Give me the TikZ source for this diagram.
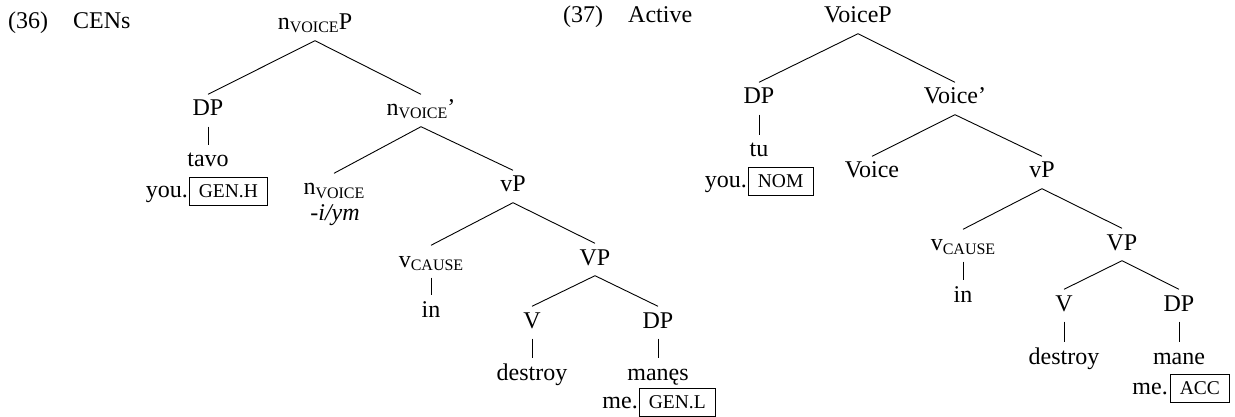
\documentclass[tikz,border=0pt]{standalone}
\usepackage{fontspec}
\setmainfont{Liberation Serif}
\newcommand\catfont{\fontsize{24}{28}\selectfont}
\newcommand\glossfont{\fontsize{19.5}{21}\selectfont}
\newcommand\feat[1]{\raisebox{-3pt}{\fontsize{16}{16}\selectfont #1}}

\begin{document}
\begin{tikzpicture}[x=1pt,y=-1pt,
  cat/.style={anchor=base, font=\catfont, text height=16pt, text depth=5pt,
              inner ysep=5.5pt, inner xsep=0pt},
  gl/.style={anchor=base east, font=\catfont, inner sep=0pt},
  tag/.style={anchor=base west, draw, line width=0.8pt, font=\glossfont,
              text height=12.5pt, text depth=1pt, inner ysep=7.5pt, inner xsep=9.5pt},
  hdr/.style={anchor=base west, font=\catfont, inner sep=0pt},
  edge/.style={line width=0.9pt}]
\useasboundingbox (0,0) rectangle (1235,417);

% ---------- (36) CENs ----------
\node[hdr] (n36) at (8,29) {(36)};
\node[hdr] (t36) at (73,29) {CENs};

\node[cat] (nP)    at (315,30)  {n\feat{VOICE}P};
\node[cat] (dpA)   at (208,116) {DP};
\node[cat] (nbar)  at (421,116) {n\feat{VOICE}'};
\node[cat] (tavo)  at (208,167) {tavo};
\node[gl]  (youA)  at (188,197) {you.};
\node[tag] (genH)  at (189,197) {GEN.H};
\node[cat] (nV)    at (334,195) {n\feat{VOICE}};
\node[cat] (suf)   at (335,220) {\itshape -i/ym};
\node[cat] (vPA)   at (513,192) {vP};
\node[cat] (vcA)   at (431,267) {v\feat{CAUSE}};
\node[cat] (VPA)   at (595,265) {VP};
\node[cat] (inA)   at (431,317) {in};
\node[cat] (VA)    at (532,328) {V};
\node[cat] (dpB)   at (658,328) {DP};
\node[cat] (desA)  at (532,380) {destroy};
\node[cat] (manes) at (658,380) {manęs};
\node[gl]  (meA)   at (638,408) {me.};
\node[tag] (genL)  at (639,408) {GEN.L};

\draw[edge] (nP.south) -- (dpA.north);
\draw[edge] (nP.south) -- (nbar.north);
\draw[edge] (dpA.south) -- (tavo.north);
\draw[edge] (nbar.south) -- (nV.north);
\draw[edge] (nbar.south) -- (vPA.north);
\draw[edge] (vPA.south) -- (vcA.north);
\draw[edge] (vPA.south) -- (VPA.north);
\draw[edge] (vcA.south) -- (inA.north);
\draw[edge] (VPA.south) -- (VA.north);
\draw[edge] (VPA.south) -- (dpB.north);
\draw[edge] (VA.south) -- (desA.north);
\draw[edge] (dpB.south) -- (manes.north);

% ---------- (37) Active ----------
\node[hdr] (n37) at (563,23) {(37)};
\node[hdr] (t37) at (628,23) {Active};

\node[cat] (VoP)   at (858,23)  {VoiceP};
\node[cat] (dpC)   at (759,104) {DP};
\node[cat] (Vobar) at (955,104) {Voice'};
\node[cat] (tu)    at (759,157) {tu};
\node[gl]  (youB)  at (747,187) {you.};
\node[tag] (nom)   at (748,187) {NOM};
\node[cat] (Vo)    at (872,178) {Voice};
\node[cat] (vPB)   at (1042,178) {vP};
\node[cat] (vcB)   at (963,251) {v\feat{CAUSE}};
\node[cat] (VPB)   at (1122,250) {VP};
\node[cat] (inB)   at (963,302) {in};
\node[cat] (VB)    at (1064,311) {V};
\node[cat] (dpD)   at (1179,311) {DP};
\node[cat] (desB)  at (1064,364) {destroy};
\node[cat] (mane)  at (1179,364) {mane};
\node[gl]  (meB)   at (1168,394) {me.};
\node[tag] (acc)   at (1170,394) {ACC};

\draw[edge] (VoP.south) -- (dpC.north);
\draw[edge] (VoP.south) -- (Vobar.north);
\draw[edge] (dpC.south) -- (tu.north);
\draw[edge] (Vobar.south) -- (Vo.north);
\draw[edge] (Vobar.south) -- (vPB.north);
\draw[edge] (vPB.south) -- (vcB.north);
\draw[edge] (vPB.south) -- (VPB.north);
\draw[edge] (vcB.south) -- (inB.north);
\draw[edge] (VPB.south) -- (VB.north);
\draw[edge] (VPB.south) -- (dpD.north);
\draw[edge] (VB.south) -- (desB.north);
\draw[edge] (dpD.south) -- (mane.north);
\end{tikzpicture}
\end{document}
